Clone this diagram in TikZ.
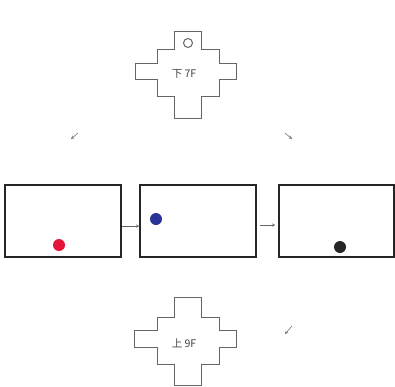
\documentclass[tikz,border=0pt]{standalone}
\usepackage{fontspec}
\newfontfamily\cjk{Noto Sans CJK SC}
\usetikzlibrary{positioning}

\definecolor{dotred}{RGB}{228,22,58}
\definecolor{dotblue}{RGB}{42,52,150}

\tikzset{
  floorbox/.style={draw=black!85, line width=1.5pt, minimum width=116pt, minimum height=72pt, inner sep=0pt},
  crossline/.style={draw=black!60, line width=1pt},
  flabel/.style={font=\cjk\fontsize{10.5}{12}\selectfont, text=black!75},
  hint/.style={->, black!60, line width=0.5pt}
}

\begin{document}
\begin{tikzpicture}[x=1pt, y=-1pt, >=stealth]
    \useasboundingbox (0,0) rectangle (395,386);

    % upper plate
    \draw[crossline] (174,31) -- (201,31) -- (201,49) -- (219,49) -- (219,63) -- (236,63)
        -- (236,79) -- (219,79) -- (219,96) -- (201,96) -- (201,118) -- (174,118)
        -- (174,96) -- (157,96) -- (157,79) -- (135,79) -- (135,63) -- (157,63)
        -- (157,49) -- (174,49) -- cycle;
    \draw[crossline] (188,43) circle[radius=4.5pt];
    \node[flabel] (top) at (184,74) {下 7F};

    % lower plate
    \draw[crossline] (174,297) -- (201,297) -- (201,317) -- (219,317) -- (219,330) -- (236,330)
        -- (236,347) -- (219,347) -- (219,364) -- (201,364) -- (201,385) -- (174,385)
        -- (174,364) -- (157,364) -- (157,347) -- (134,347) -- (134,330) -- (157,330)
        -- (157,317) -- (174,317) -- cycle;
    \node[flabel] (bottom) at (184,343) {上 9F};

    % the three frames
    \node[floorbox] (frameA) at (63,221) {};
    \node[floorbox] (frameB) at (198,221) {};
    \node[floorbox, minimum width=115pt] (frameC) at (336.5,221) {};

    \fill[dotred] (59,245) circle[radius=6pt];
    \fill[dotblue] (156,219) circle[radius=6pt];
    \fill[black!85] (340,247) circle[radius=6pt];

    \draw[hint] ([yshift=-5pt]frameA.east) -- ([yshift=-5pt]frameB.west);
    \draw[hint, shorten <=3pt, shorten >=3pt] ([yshift=-4pt]frameB.east) -- ([yshift=-4pt]frameC.west);

    % small diagonal marks
    \coordinate (a1) at (78,133);  \coordinate (a2) at (71,139);
    \coordinate (b1) at (285,133); \coordinate (b2) at (292,139);
    \coordinate (c1) at (292,326); \coordinate (c2) at (285,334);
    \draw[hint] (a1) -- (a2);
    \draw[hint] (b1) -- (b2);
    \draw[hint] (c1) -- (c2);
\end{tikzpicture}
\end{document}
